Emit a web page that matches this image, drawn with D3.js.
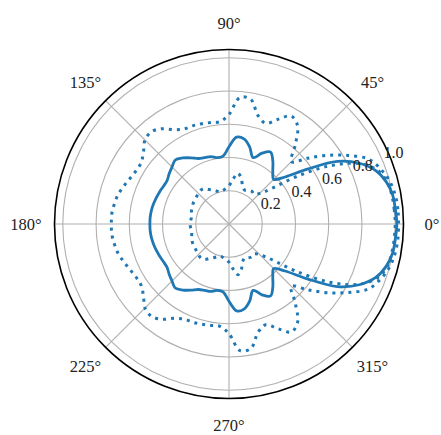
<!DOCTYPE html>
<html>
<head>
<meta charset="utf-8">
<script src="https://cdn.jsdelivr.net/npm/d3@7"></script>
<style>
  body { margin: 0; background: #fff; }
</style>
</head>
<body>
<svg id="chart" width="441" height="435"></svg>
<script>
// angles in degrees (counter-clockwise from east)
var angles = [0,5,10,15,20,25,30,35,40,45,50,55,60,65,70,75,80,85,90,95,100,105,110,115,120,125,130,135,140,145,150,155,160,165,170,175,
  180,185,190,195,200,205,210,215,220,225,230,235,240,245,250,255,260,265,270,275,280,285,290,295,300,305,310,315,320,325,330,335,340,345,350,355];

// solid curve
var solid = [1.01,1.005,1.0,0.98,0.94,0.865,0.753,0.575,0.44,0.38,0.41,0.46,0.50,0.47,0.425,0.48,0.52,0.525,0.465,0.41,0.405,0.42,0.425,0.435,0.46,0.485,0.503,0.485,0.47,0.455,0.455,0.46,0.465,0.47,0.474,0.476,
  0.476,0.476,0.474,0.47,0.465,0.46,0.455,0.455,0.47,0.485,0.503,0.485,0.46,0.435,0.425,0.42,0.405,0.41,0.465,0.525,0.52,0.48,0.425,0.47,0.50,0.46,0.41,0.38,0.44,0.575,0.753,0.865,0.94,0.98,1.0,1.005];

// dotted curve, outer
var outer = [1.02,1.02,1.015,1.0,0.97,0.925,0.825,0.72,0.615,0.53,0.62,0.72,0.75,0.695,0.645,0.675,0.76,0.765,0.66,0.618,0.62,0.625,0.63,0.632,0.655,0.70,0.725,0.715,0.672,0.645,0.644,0.655,0.672,0.69,0.70,0.708,
  0.708,0.708,0.70,0.69,0.672,0.655,0.644,0.645,0.672,0.715,0.725,0.70,0.655,0.632,0.63,0.625,0.62,0.618,0.66,0.765,0.76,0.675,0.645,0.695,0.75,0.72,0.62,0.53,0.615,0.72,0.825,0.925,0.97,1.0,1.015,1.02];

// dotted curve, inner
var inner = [1.0,0.998,0.995,0.985,0.95,0.86,0.70,0.50,0.33,0.26,0.235,0.24,0.235,0.225,0.24,0.285,0.31,0.27,0.23,0.215,0.205,0.2,0.21,0.225,0.24,0.26,0.265,0.26,0.255,0.25,0.249,0.245,0.24,0.232,0.229,0.232,
  0.235,0.232,0.229,0.232,0.24,0.245,0.249,0.25,0.255,0.26,0.265,0.26,0.24,0.225,0.21,0.2,0.205,0.215,0.23,0.27,0.31,0.285,0.24,0.225,0.235,0.24,0.235,0.26,0.33,0.50,0.70,0.86,0.95,0.985,0.995,0.998];

var rTicks = [0.2, 0.4, 0.6, 0.8, 1.0];
var thetaTicks = [0, 45, 90, 135, 180, 225, 270, 315];

var cx = 229, cy = 224, R = 174.5;
var font = "'Liberation Serif', 'DejaVu Serif', serif";
var svg = d3.select("#chart");
var g = svg.append("g").attr("transform", "translate(" + cx + "," + cy + ")");

var r = d3.scaleLinear().domain([0, 1.05]).range([0, R]);
var toRad = function(deg) { return Math.PI / 2 - deg * Math.PI / 180; };

// grid circles
g.selectAll(".rgrid").data(rTicks).enter().append("circle")
  .attr("r", function(d) { return r(d); })
  .attr("fill", "none").attr("stroke", "#b0b0b0").attr("stroke-width", 1.1);

// spokes
g.selectAll(".tgrid").data(thetaTicks).enter().append("line")
  .attr("x1", 0).attr("y1", 0)
  .attr("x2", function(d) { return R * Math.cos(d * Math.PI / 180); })
  .attr("y2", function(d) { return -R * Math.sin(d * Math.PI / 180); })
  .attr("stroke", "#b0b0b0").attr("stroke-width", 1.1);

// curves
var line = d3.lineRadial()
  .angle(function(d) { return toRad(d[0]); })
  .radius(function(d) { return r(d[1]); })
  .curve(d3.curveCatmullRomClosed.alpha(0.5));

function series(vals) { return angles.map(function(a, i) { return [a, vals[i]]; }); }

g.append("path").datum(series(solid))
  .attr("d", line).attr("fill", "none")
  .attr("stroke", "#1f77b4").attr("stroke-width", 2.8);

[outer, inner].forEach(function(vals) {
  g.append("path").datum(series(vals))
    .attr("d", line).attr("fill", "none")
    .attr("stroke", "#1f77b4").attr("stroke-width", 3)
    .attr("stroke-dasharray", "3,5");
});

// outer spine
g.append("circle").attr("r", R)
  .attr("fill", "none").attr("stroke", "#000").attr("stroke-width", 1.6);

// angle labels
g.selectAll(".tlab").data(thetaTicks).enter().append("text")
  .attr("x", function(d) { return 203 * Math.cos(d * Math.PI / 180); })
  .attr("y", function(d) { return -201 * Math.sin(d * Math.PI / 180); })
  .attr("text-anchor", "middle").attr("dy", "0.35em")
  .attr("font-family", font).attr("font-size", 16.5).attr("fill", "#222")
  .text(function(d) { return d + "°"; });

// radial labels at 22.5 deg
var la = 22.5 * Math.PI / 180;
g.selectAll(".rlab").data(rTicks).enter().append("text")
  .attr("x", function(d) { return r(d) * Math.cos(la) + 1; })
  .attr("y", function(d) { return -r(d) * Math.sin(la) - 2; })
  .attr("text-anchor", "start")
  .attr("font-family", font).attr("font-size", 16).attr("fill", "#222")
  .text(function(d) { return d.toFixed(1); });
</script>
</body>
</html>
